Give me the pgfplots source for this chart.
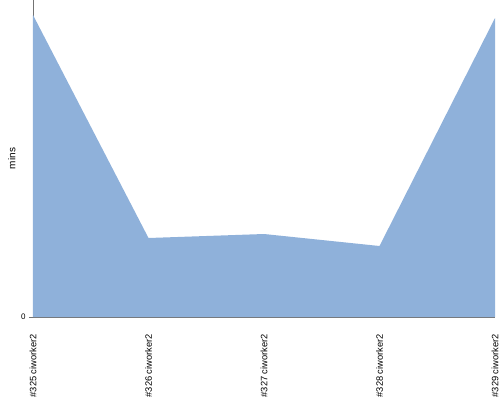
\documentclass[border=0pt]{standalone}
\usepackage{pgfplots}
\pgfplotsset{compat=1.18}
\usepackage{fontspec}
\setmainfont{Liberation Sans}
\definecolor{areafill}{HTML}{8FB1DA}
\begin{document}
\begin{tikzpicture}[x=1pt,y=1pt]
\useasboundingbox (-33pt,-83pt) rectangle (467pt,317pt);
\begin{axis}[
  at={(0,0)}, anchor=south west,
  scale only axis, width=462pt, height=317pt,
  xmin=0, xmax=4, ymin=0, ymax=317,
  axis lines*=left,
  axis line style={draw=gray!90!black, line width=0.8pt},
  xtick={0,1,2,3,4},
  xticklabels={\#325 ciworker2,\#326 ciworker2,\#327 ciworker2,\#328 ciworker2,\#329 ciworker2},
  major x tick style={draw=none},
  xticklabel style={rotate=90, anchor=east, font=\fontsize{9.3}{10}\selectfont, xshift=-13pt, inner sep=0pt},
  ytick={0},
  yticklabel style={font=\fontsize{8}{9}\selectfont},
  /pgf/number format/assume math mode=true,
  major y tick style={draw=gray!90!black},
  tick align=outside,
  major tick length=4pt,
  ylabel={mins},
  ylabel style={font=\fontsize{10}{12}\selectfont, at={(axis description cs:0,0.5)}, yshift=14pt},
]
\addplot[draw=none, fill=areafill] coordinates {(0,302) (1,79) (2,83) (3,71) (4,299)} \closedcycle;
\end{axis}
\end{tikzpicture}
\end{document}
